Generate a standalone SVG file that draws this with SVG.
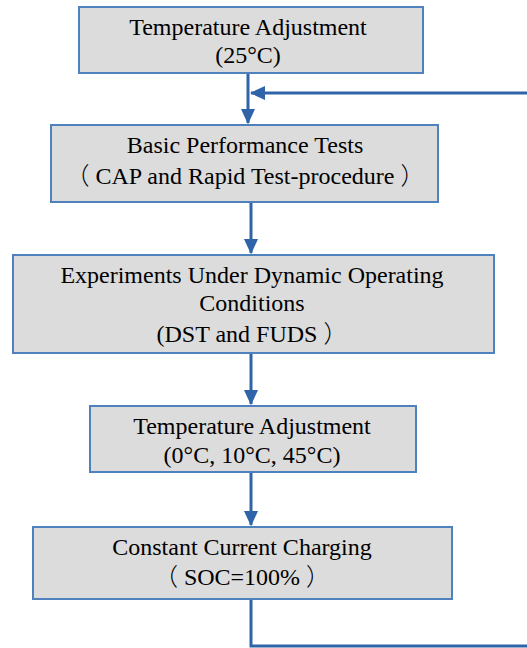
<svg xmlns="http://www.w3.org/2000/svg" width="527" height="648" viewBox="0 0 527 648">
<style>
.box{fill:#dcdcdc;stroke:#4f81bd;stroke-width:2}
.t{font-family:'Liberation Serif','Times New Roman',serif;font-size:24px;fill:#000;text-anchor:middle}
.cjk{font-family:'Noto Sans CJK SC',sans-serif;font-weight:300}
.c{fill:none;stroke:#2f64a8;stroke-width:3}
</style>
<defs>
<marker id="ah" markerWidth="5.2" markerHeight="5" refX="4.8" refY="2.4" orient="auto" markerUnits="strokeWidth">
<path d="M0,0 L5.2,2.4 L0,4.8 Z" fill="#2f64a8"/>
</marker>
</defs>
<rect width="527" height="648" fill="#fff"/>
<g id="connectors">
<line class="c" x1="248" y1="73" x2="248" y2="123" marker-end="url(#ah)"/>
<line class="c" x1="527" y1="93" x2="251" y2="93" marker-end="url(#ah)"/>
<line class="c" x1="251" y1="202" x2="251" y2="253" marker-end="url(#ah)"/>
<line class="c" x1="251" y1="353" x2="251" y2="404" marker-end="url(#ah)"/>
<line class="c" x1="251" y1="472" x2="251" y2="525" marker-end="url(#ah)"/>
<polyline class="c" points="251,599 251,646 527,646"/>
</g>
<g id="n1">
<rect class="box" x="79" y="7" width="344" height="66"/>
<text class="t" x="248" y="35">Temperature Adjustment</text>
<text class="t" x="248" y="63">(25°C)</text>
</g>
<g id="n2">
<rect class="box" x="51" y="125" width="387" height="77"/>
<text class="t" x="245" y="153">Basic Performance Tests</text>
<text class="t" x="245" y="184"><tspan class="cjk">（</tspan> CAP and Rapid Test-procedure <tspan class="cjk">）</tspan></text>
</g>
<g id="n3">
<rect class="box" x="13" y="255" width="481" height="98"/>
<text class="t" x="252" y="283">Experiments Under Dynamic Operating</text>
<text class="t" x="252" y="311">Conditions</text>
<text class="t" x="252" y="342">(DST and FUDS <tspan class="cjk">）</tspan></text>
</g>
<g id="n4">
<rect class="box" x="90" y="406" width="326" height="66"/>
<text class="t" x="252" y="434">Temperature Adjustment</text>
<text class="t" x="252" y="463">(0°C, 10°C, 45°C)</text>
</g>
<g id="n5">
<rect class="box" x="33" y="527" width="419" height="72"/>
<text class="t" x="242" y="555">Constant Current Charging</text>
<text class="t" x="242" y="585"><tspan class="cjk">（</tspan>  SOC=100% <tspan class="cjk">）</tspan></text>
</g>
</svg>
